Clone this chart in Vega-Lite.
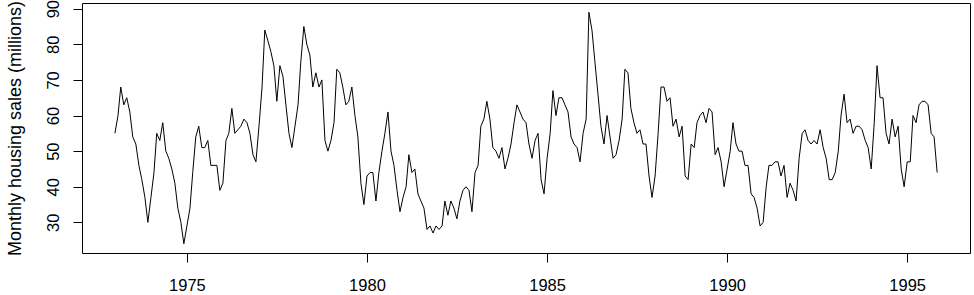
{
  "$schema": "https://vega.github.io/schema/vega-lite/v6.json",
  "width": 888,
  "height": 250,
  "autosize": "none",
  "padding": {"left": 82, "top": 3, "right": 4, "bottom": 42},
  "background": "white",
  "config": {
    "view": {"stroke": "black", "strokeWidth": 1},
    "font": "Liberation Sans"
  },
  "datasets": {
    "hsales": [
      {"d":"1973-01","v":55},{"d":"1973-02","v":60},{"d":"1973-03","v":68},{"d":"1973-04","v":63},{"d":"1973-05","v":65},{"d":"1973-06","v":61},{"d":"1973-07","v":54},{"d":"1973-08","v":52},{"d":"1973-09","v":46},{"d":"1973-10","v":42},{"d":"1973-11","v":37},{"d":"1973-12","v":30},
      {"d":"1974-01","v":37},{"d":"1974-02","v":44},{"d":"1974-03","v":55},{"d":"1974-04","v":53},{"d":"1974-05","v":58},{"d":"1974-06","v":50},{"d":"1974-07","v":48},{"d":"1974-08","v":45},{"d":"1974-09","v":41},{"d":"1974-10","v":34},{"d":"1974-11","v":30},{"d":"1974-12","v":24},
      {"d":"1975-01","v":29},{"d":"1975-02","v":34},{"d":"1975-03","v":44},{"d":"1975-04","v":54},{"d":"1975-05","v":57},{"d":"1975-06","v":51},{"d":"1975-07","v":51},{"d":"1975-08","v":53},{"d":"1975-09","v":46},{"d":"1975-10","v":46},{"d":"1975-11","v":46},{"d":"1975-12","v":39},
      {"d":"1976-01","v":41},{"d":"1976-02","v":53},{"d":"1976-03","v":55},{"d":"1976-04","v":62},{"d":"1976-05","v":55},{"d":"1976-06","v":56},{"d":"1976-07","v":57},{"d":"1976-08","v":59},{"d":"1976-09","v":58},{"d":"1976-10","v":55},{"d":"1976-11","v":49},{"d":"1976-12","v":47},
      {"d":"1977-01","v":57},{"d":"1977-02","v":68},{"d":"1977-03","v":84},{"d":"1977-04","v":81},{"d":"1977-05","v":78},{"d":"1977-06","v":74},{"d":"1977-07","v":64},{"d":"1977-08","v":74},{"d":"1977-09","v":71},{"d":"1977-10","v":63},{"d":"1977-11","v":55},{"d":"1977-12","v":51},
      {"d":"1978-01","v":57},{"d":"1978-02","v":63},{"d":"1978-03","v":75},{"d":"1978-04","v":85},{"d":"1978-05","v":80},{"d":"1978-06","v":77},{"d":"1978-07","v":68},{"d":"1978-08","v":72},{"d":"1978-09","v":68},{"d":"1978-10","v":70},{"d":"1978-11","v":53},{"d":"1978-12","v":50},
      {"d":"1979-01","v":53},{"d":"1979-02","v":58},{"d":"1979-03","v":73},{"d":"1979-04","v":72},{"d":"1979-05","v":68},{"d":"1979-06","v":63},{"d":"1979-07","v":64},{"d":"1979-08","v":68},{"d":"1979-09","v":60},{"d":"1979-10","v":54},{"d":"1979-11","v":41},{"d":"1979-12","v":35},
      {"d":"1980-01","v":43},{"d":"1980-02","v":44},{"d":"1980-03","v":44},{"d":"1980-04","v":36},{"d":"1980-05","v":44},{"d":"1980-06","v":50},{"d":"1980-07","v":55},{"d":"1980-08","v":61},{"d":"1980-09","v":50},{"d":"1980-10","v":46},{"d":"1980-11","v":39},{"d":"1980-12","v":33},
      {"d":"1981-01","v":37},{"d":"1981-02","v":40},{"d":"1981-03","v":49},{"d":"1981-04","v":44},{"d":"1981-05","v":45},{"d":"1981-06","v":38},{"d":"1981-07","v":36},{"d":"1981-08","v":34},{"d":"1981-09","v":28},{"d":"1981-10","v":29},{"d":"1981-11","v":27},{"d":"1981-12","v":29},
      {"d":"1982-01","v":28},{"d":"1982-02","v":29},{"d":"1982-03","v":36},{"d":"1982-04","v":32},{"d":"1982-05","v":36},{"d":"1982-06","v":34},{"d":"1982-07","v":31},{"d":"1982-08","v":36},{"d":"1982-09","v":39},{"d":"1982-10","v":40},{"d":"1982-11","v":39},{"d":"1982-12","v":33},
      {"d":"1983-01","v":44},{"d":"1983-02","v":46},{"d":"1983-03","v":57},{"d":"1983-04","v":59},{"d":"1983-05","v":64},{"d":"1983-06","v":59},{"d":"1983-07","v":51},{"d":"1983-08","v":50},{"d":"1983-09","v":48},{"d":"1983-10","v":51},{"d":"1983-11","v":45},{"d":"1983-12","v":48},
      {"d":"1984-01","v":52},{"d":"1984-02","v":58},{"d":"1984-03","v":63},{"d":"1984-04","v":61},{"d":"1984-05","v":59},{"d":"1984-06","v":58},{"d":"1984-07","v":52},{"d":"1984-08","v":48},{"d":"1984-09","v":53},{"d":"1984-10","v":55},{"d":"1984-11","v":42},{"d":"1984-12","v":38},
      {"d":"1985-01","v":48},{"d":"1985-02","v":55},{"d":"1985-03","v":67},{"d":"1985-04","v":60},{"d":"1985-05","v":65},{"d":"1985-06","v":65},{"d":"1985-07","v":63},{"d":"1985-08","v":61},{"d":"1985-09","v":54},{"d":"1985-10","v":52},{"d":"1985-11","v":51},{"d":"1985-12","v":47},
      {"d":"1986-01","v":55},{"d":"1986-02","v":59},{"d":"1986-03","v":89},{"d":"1986-04","v":84},{"d":"1986-05","v":75},{"d":"1986-06","v":66},{"d":"1986-07","v":57},{"d":"1986-08","v":52},{"d":"1986-09","v":60},{"d":"1986-10","v":54},{"d":"1986-11","v":48},{"d":"1986-12","v":49},
      {"d":"1987-01","v":53},{"d":"1987-02","v":59},{"d":"1987-03","v":73},{"d":"1987-04","v":72},{"d":"1987-05","v":62},{"d":"1987-06","v":58},{"d":"1987-07","v":55},{"d":"1987-08","v":56},{"d":"1987-09","v":52},{"d":"1987-10","v":52},{"d":"1987-11","v":43},{"d":"1987-12","v":37},
      {"d":"1988-01","v":43},{"d":"1988-02","v":55},{"d":"1988-03","v":68},{"d":"1988-04","v":68},{"d":"1988-05","v":64},{"d":"1988-06","v":65},{"d":"1988-07","v":57},{"d":"1988-08","v":59},{"d":"1988-09","v":54},{"d":"1988-10","v":57},{"d":"1988-11","v":43},{"d":"1988-12","v":42},
      {"d":"1989-01","v":52},{"d":"1989-02","v":51},{"d":"1989-03","v":58},{"d":"1989-04","v":60},{"d":"1989-05","v":61},{"d":"1989-06","v":58},{"d":"1989-07","v":62},{"d":"1989-08","v":61},{"d":"1989-09","v":49},{"d":"1989-10","v":51},{"d":"1989-11","v":47},{"d":"1989-12","v":40},
      {"d":"1990-01","v":45},{"d":"1990-02","v":50},{"d":"1990-03","v":58},{"d":"1990-04","v":52},{"d":"1990-05","v":50},{"d":"1990-06","v":50},{"d":"1990-07","v":46},{"d":"1990-08","v":46},{"d":"1990-09","v":38},{"d":"1990-10","v":37},{"d":"1990-11","v":34},{"d":"1990-12","v":29},
      {"d":"1991-01","v":30},{"d":"1991-02","v":40},{"d":"1991-03","v":46},{"d":"1991-04","v":46},{"d":"1991-05","v":47},{"d":"1991-06","v":47},{"d":"1991-07","v":43},{"d":"1991-08","v":46},{"d":"1991-09","v":37},{"d":"1991-10","v":41},{"d":"1991-11","v":39},{"d":"1991-12","v":36},
      {"d":"1992-01","v":48},{"d":"1992-02","v":55},{"d":"1992-03","v":56},{"d":"1992-04","v":53},{"d":"1992-05","v":52},{"d":"1992-06","v":53},{"d":"1992-07","v":52},{"d":"1992-08","v":56},{"d":"1992-09","v":51},{"d":"1992-10","v":48},{"d":"1992-11","v":42},{"d":"1992-12","v":42},
      {"d":"1993-01","v":44},{"d":"1993-02","v":50},{"d":"1993-03","v":60},{"d":"1993-04","v":66},{"d":"1993-05","v":58},{"d":"1993-06","v":59},{"d":"1993-07","v":55},{"d":"1993-08","v":57},{"d":"1993-09","v":57},{"d":"1993-10","v":56},{"d":"1993-11","v":53},{"d":"1993-12","v":51},
      {"d":"1994-01","v":45},{"d":"1994-02","v":58},{"d":"1994-03","v":74},{"d":"1994-04","v":65},{"d":"1994-05","v":65},{"d":"1994-06","v":55},{"d":"1994-07","v":52},{"d":"1994-08","v":59},{"d":"1994-09","v":54},{"d":"1994-10","v":57},{"d":"1994-11","v":45},{"d":"1994-12","v":40},
      {"d":"1995-01","v":47},{"d":"1995-02","v":47},{"d":"1995-03","v":60},{"d":"1995-04","v":58},{"d":"1995-05","v":63},{"d":"1995-06","v":64},{"d":"1995-07","v":64},{"d":"1995-08","v":63},{"d":"1995-09","v":55},{"d":"1995-10","v":54},{"d":"1995-11","v":44}
    ]
  },
  "data": {"name": "hsales"},
  "mark": {"type": "line", "color": "black", "strokeWidth": 1, "clip": true},
  "encoding": {
    "x": {
      "field": "d",
      "type": "temporal",
      "scale": {
        "type": "utc",
        "domain": [
          {"year": 1972, "month": 2, "date": 2, "utc": true},
          {"year": 1996, "month": 9, "date": 29, "utc": true}
        ]
      },
      "axis": {
        "title": null,
        "values": [
          {"year": 1975, "utc": true},
          {"year": 1980, "utc": true},
          {"year": 1985, "utc": true},
          {"year": 1990, "utc": true},
          {"year": 1995, "utc": true}
        ],
        "format": "%Y",
        "grid": false,
        "domain": false,
        "ticks": true,
        "tickColor": "black",
        "tickSize": 9,
        "tickWidth": 1,
        "labelFont": "Liberation Sans",
        "labelFontSize": 16.5,
        "labelColor": "black",
        "labelPadding": 15,
        "labelBaseline": "top",
        "labelAlign": "center",
        "labelFlush": false,
        "labelOverlap": false
      }
    },
    "y": {
      "field": "v",
      "type": "quantitative",
      "scale": {"domain": [21.4, 91.6], "nice": false, "zero": false},
      "axis": {
        "title": "Monthly housing sales (millions)",
        "values": [30, 40, 50, 60, 70, 80, 90],
        "grid": false,
        "domain": false,
        "tickColor": "black",
        "tickSize": 9,
        "tickWidth": 1,
        "labelFont": "Liberation Sans",
        "labelFontSize": 16.5,
        "labelColor": "black",
        "labelAngle": 270,
        "labelAlign": "center",
        "labelBaseline": "alphabetic",
        "labelPadding": 15,
        "labelFlush": false,
        "labelOverlap": false,
        "titleFont": "Liberation Sans",
        "titleFontSize": 18,
        "titleFontWeight": "normal",
        "titleColor": "black",
        "titleAngle": 270,
        "titleAlign": "center",
        "titleBaseline": "alphabetic",
        "titleX": -62,
        "titleY": 125
      }
    }
  }
}
